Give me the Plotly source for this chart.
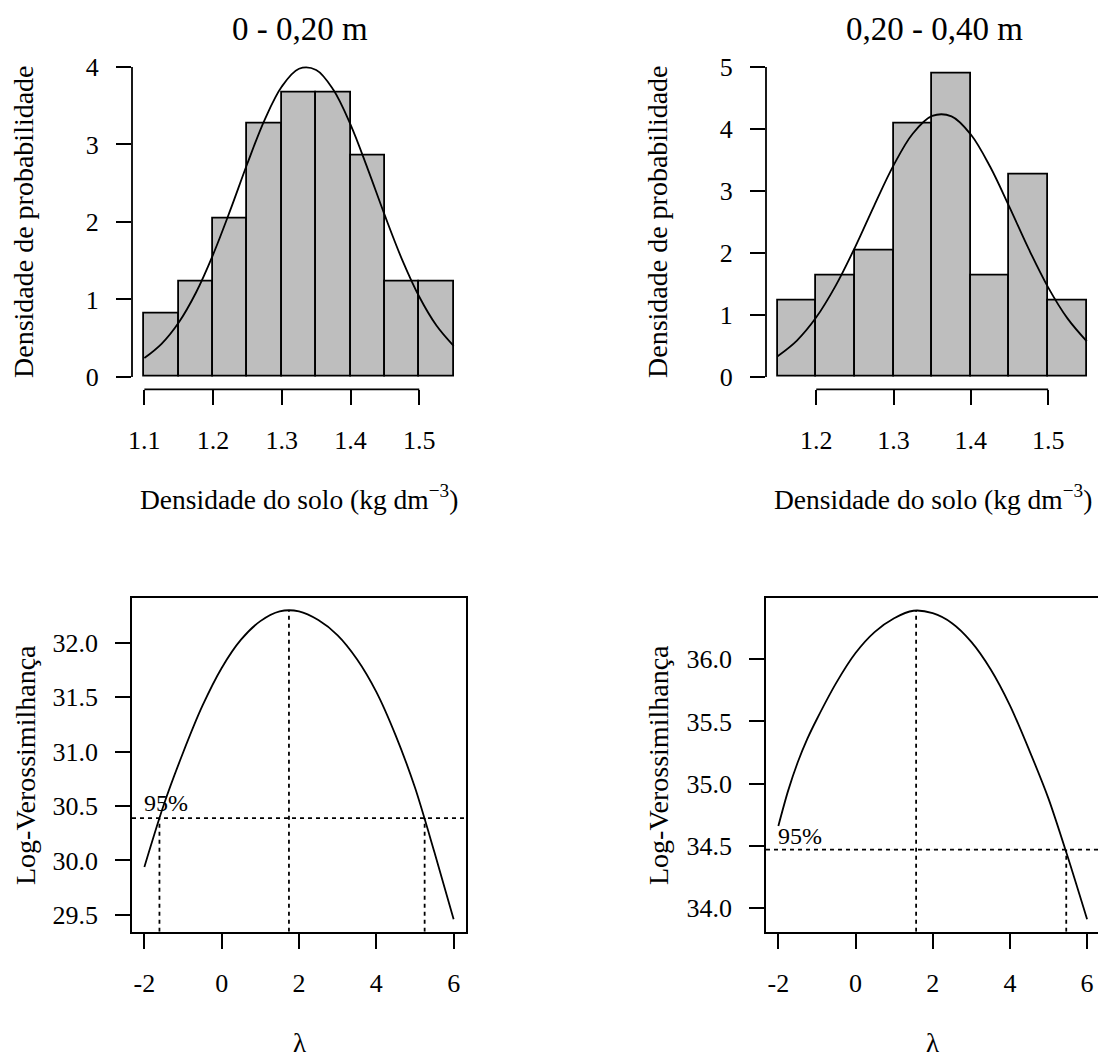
import plotly.graph_objects as go

# ---------------- data ----------------
panel_titles = ["0 - 0,20 m", "0,20 - 0,40 m"]
hist_xlabel = "Densidade do solo (kg dm<sup>\u22123</sup>)"
hist_ylabel = "Densidade de probabilidade"
bc_xlabel = "\u03bb"
bc_ylabel = "Log-Verossimilhan\u00e7a"

# 0 - 0,20 m histogram (density scale)
h1_edges = [1.10, 1.15, 1.20, 1.25, 1.30, 1.35, 1.40, 1.45, 1.50, 1.55]
h1_density = [0.816, 1.224, 2.041, 3.265, 3.673, 3.673, 2.857, 1.224, 1.224]
c1_x = [1.100, 1.125, 1.150, 1.175, 1.200, 1.225, 1.250, 1.275, 1.300, 1.325,
        1.350, 1.375, 1.400, 1.425, 1.450, 1.475, 1.500, 1.525, 1.550]
c1_y = [0.243, 0.427, 0.702, 1.086, 1.579, 2.152, 2.757, 3.318, 3.748, 3.977,
        3.962, 3.706, 3.256, 2.685, 2.081, 1.514, 1.034, 0.663, 0.400]

# 0,20 - 0,40 m histogram
h2_edges = [1.15, 1.20, 1.25, 1.30, 1.35, 1.40, 1.45, 1.50, 1.55]
h2_density = [1.224, 1.633, 2.041, 4.082, 4.898, 1.633, 3.265, 1.224]
c2_x = [1.150, 1.175, 1.200, 1.225, 1.250, 1.275, 1.300, 1.325, 1.350,
        1.375, 1.400, 1.425, 1.450, 1.475, 1.500, 1.525, 1.550]
c2_y = [0.334, 0.587, 0.961, 1.468, 2.087, 2.765, 3.413, 3.927, 4.210,
        4.204, 3.911, 3.390, 2.739, 2.061, 1.445, 0.944, 0.574]

# Box-Cox profile log-likelihood, 0 - 0,20 m
bc1_lambda = [-2.0, -1.5, -1.0, -0.5, 0.0, 0.5, 1.0, 1.5, 2.0, 2.5, 3.0, 3.5, 4.0, 4.5, 5.0, 5.5, 6.0]
bc1_loglik = [29.94, 30.51, 30.99, 31.42, 31.77, 32.03, 32.20, 32.29, 32.29, 32.21, 32.07,
              31.85, 31.55, 31.15, 30.67, 30.08, 29.46]
bc1_lambda_hat = 1.74
bc1_max = 32.30
bc1_ci = [-1.61, 5.25]
bc1_lim = 30.39

# Box-Cox profile log-likelihood, 0,20 - 0,40 m
bc2_lambda = [-2.0, -1.75, -1.5, -1.25, -1.0, -0.5, 0.0, 0.5, 1.0, 1.5, 2.0, 2.5, 3.0, 3.5,
              4.0, 4.5, 5.0, 5.5, 6.0]
bc2_loglik = [34.66, 34.94, 35.17, 35.36, 35.52, 35.81, 36.05, 36.22, 36.33, 36.39, 36.37,
              36.29, 36.14, 35.92, 35.63, 35.27, 34.88, 34.41, 33.91]
bc2_lambda_hat = 1.57
bc2_max = 36.39
bc2_ci = [5.46]
bc2_lim = 34.47

# tick values / labels
tl_xticks = [1.1, 1.2, 1.3, 1.4, 1.5]
tl_yticks = [0, 1, 2, 3, 4]
tr_xticks = [1.2, 1.3, 1.4, 1.5]
tr_yticks = [0, 1, 2, 3, 4, 5]
bc_xticks = [-2, 0, 2, 4, 6]
bc_xticktext = ["-2", "0", "2", "4", "6"]
bl_yticks = [29.5, 30.0, 30.5, 31.0, 31.5, 32.0]
br_yticks = [34.0, 34.5, 35.0, 35.5, 36.0]

# axis ranges
tl_xr = [1.082, 1.568]; tl_yr = [-0.16, 4.16]
tr_xr = [1.135, 1.5645]; tr_yr = [-0.2, 5.2]
bl_xr = [-2.32, 6.32]; bl_yr = [29.345, 32.41]
br_xr = [-2.32, 6.283]; br_yr = [33.81, 36.49]

# ---------------- layout helpers ----------------
W, H = 1098, 1059
FONT = "Liberation Serif"
LW = 1.8


def fx(p):
    return p / W


def fy(p):
    return 1 - p / H


left_dom = [fx(132), fx(466)]
right_dom = [fx(766), 1.0]
top_dom = [fy(389.3), fy(54.6)]
bot_dom = [fy(931.7), fy(598.3)]

fig = go.Figure()


def bars(edges, dens, xa, ya):
    centers = [(edges[i] + edges[i + 1]) / 2 for i in range(len(dens))]
    widths = [edges[i + 1] - edges[i] for i in range(len(dens))]
    fig.add_trace(go.Bar(x=centers, y=dens, width=widths, xaxis=xa, yaxis=ya,
                         marker=dict(color="#BEBEBE", line=dict(color="black", width=LW)),
                         showlegend=False, hoverinfo="skip"))


bars(h1_edges, h1_density, "x", "y")
fig.add_trace(go.Scatter(x=c1_x, y=c1_y, mode="lines", xaxis="x", yaxis="y",
                         line=dict(color="black", width=LW, shape="spline"), showlegend=False))
bars(h2_edges, h2_density, "x2", "y2")
fig.add_trace(go.Scatter(x=c2_x, y=c2_y, mode="lines", xaxis="x2", yaxis="y2",
                         line=dict(color="black", width=LW, shape="spline"), showlegend=False))

DOT = "4px,4px"


def boxcox(lam, ll, lhat, lmax, ci, lim, yr, xa, ya):
    fig.add_trace(go.Scatter(x=lam, y=ll, mode="lines", xaxis=xa, yaxis=ya,
                             line=dict(color="black", width=LW, shape="spline", smoothing=0.8),
                             showlegend=False))
    fig.add_trace(go.Scatter(x=[lhat, lhat], y=[yr[0], lmax], mode="lines", xaxis=xa, yaxis=ya,
                             line=dict(color="black", width=LW, dash=DOT), showlegend=False))
    for c in ci:
        fig.add_trace(go.Scatter(x=[c, c], y=[yr[0], lim], mode="lines", xaxis=xa, yaxis=ya,
                                 line=dict(color="black", width=LW, dash=DOT), showlegend=False))


boxcox(bc1_lambda, bc1_loglik, bc1_lambda_hat, bc1_max, bc1_ci, bc1_lim, bl_yr, "x3", "y3")
boxcox(bc2_lambda, bc2_loglik, bc2_lambda_hat, bc2_max, bc2_ci, bc2_lim, br_yr, "x4", "y4")

# horizontal 95% lines across the whole plot region
shapes = []
for lim, xr, ya in [(bc1_lim, "x3 domain", "y3"), (bc2_lim, "x4 domain", "y4")]:
    shapes.append(dict(type="line", xref=xr, yref=ya, x0=0, x1=1, y0=lim, y1=lim,
                       line=dict(color="black", width=LW, dash=DOT)))

# R-style axis lines for histograms (from first to last tick)
shapes.append(dict(type="line", xref="x", yref="y domain", x0=tl_xticks[0], x1=tl_xticks[-1], y0=0, y1=0,
                   line=dict(color="black", width=LW)))
shapes.append(dict(type="line", xref="x domain", yref="y", x0=0, x1=0, y0=tl_yticks[0], y1=tl_yticks[-1],
                   line=dict(color="black", width=LW)))
shapes.append(dict(type="line", xref="x2", yref="y2 domain", x0=tr_xticks[0], x1=tr_xticks[-1], y0=0, y1=0,
                   line=dict(color="black", width=LW)))
shapes.append(dict(type="line", xref="x2 domain", yref="y2", x0=0, x1=0, y0=tr_yticks[0], y1=tr_yticks[-1],
                   line=dict(color="black", width=LW)))

TICKF = dict(family=FONT, size=26, color="black")


def ax(dom, rng, tickvals, anchor, fmt=None, line=False, mirror=False, standoff=12, ticktext=None):
    d = dict(domain=dom, range=rng, tickvals=tickvals, anchor=anchor, ticks="outside",
             ticklen=15, tickwidth=LW, tickcolor="black", showgrid=False, zeroline=False,
             tickfont=TICKF, showline=line, mirror=mirror, linecolor="black", linewidth=LW,
             ticklabelstandoff=standoff, fixedrange=True, automargin=False)
    if fmt:
        d["tickformat"] = fmt
    if ticktext:
        d["ticktext"] = ticktext
    return d


annotations = []


def ann(text, x, y, size, angle=0, xanchor="center", yanchor="middle", xref="paper", yref="paper"):
    annotations.append(dict(text=text, x=x, y=y, xref=xref, yref=yref, showarrow=False,
                            textangle=angle, xanchor=xanchor, yanchor=yanchor,
                            font=dict(family=FONT, size=size, color="black")))


# titles
ann(panel_titles[0], fx(300), fy(29), 33)
ann(panel_titles[1], fx(934), fy(29), 33)
# x titles
ann(hist_xlabel, fx(299), fy(497), 27.5)
ann(hist_xlabel, fx(932.5), fy(497), 27.5)
ann(bc_xlabel, fx(299), fy(1043), 27)
ann(bc_xlabel, fx(932.5), fy(1043), 27)
# y titles
ann(hist_ylabel, fx(23), fy(222), 28, angle=-90)
ann(hist_ylabel, fx(657), fy(222), 28, angle=-90)
ann(bc_ylabel, fx(25), fy(765), 28, angle=-90)
ann(bc_ylabel, fx(658), fy(765), 28, angle=-90)
# 95% labels
ann("95%", -2.07, 30.53, 24, xanchor="left", xref="x3", yref="y3")
ann("95%", -2.06, 34.58, 24, xanchor="left", xref="x4", yref="y4")

fig.update_layout(
    width=W, height=H,
    margin=dict(l=0, r=0, t=0, b=0, autoexpand=False),
    paper_bgcolor="white", plot_bgcolor="white",
    font=dict(family=FONT, color="black"),
    bargap=0, showlegend=False,
    xaxis=ax(left_dom, tl_xr, tl_xticks, "y"),
    yaxis=ax(top_dom, tl_yr, tl_yticks, "x"),
    xaxis2=ax(right_dom, tr_xr, tr_xticks, "y2"),
    yaxis2=ax(top_dom, tr_yr, tr_yticks, "x2"),
    xaxis3=ax(left_dom, bl_xr, bc_xticks, "y3", line=True, mirror=True, ticktext=bc_xticktext),
    yaxis3=ax(bot_dom, bl_yr, bl_yticks, "x3", fmt=".1f", line=True, mirror=True),
    xaxis4=ax(right_dom, br_xr, bc_xticks, "y4", line=True, mirror=True, ticktext=bc_xticktext),
    yaxis4=ax(bot_dom, br_yr, br_yticks, "x4", fmt=".1f", line=True),
    shapes=shapes, annotations=annotations,
)

fig.write_html(
    "out.html",
    config={"displayModeBar": False},
    post_script="document.body.style.margin='0px';document.body.style.overflow='hidden';",
)
